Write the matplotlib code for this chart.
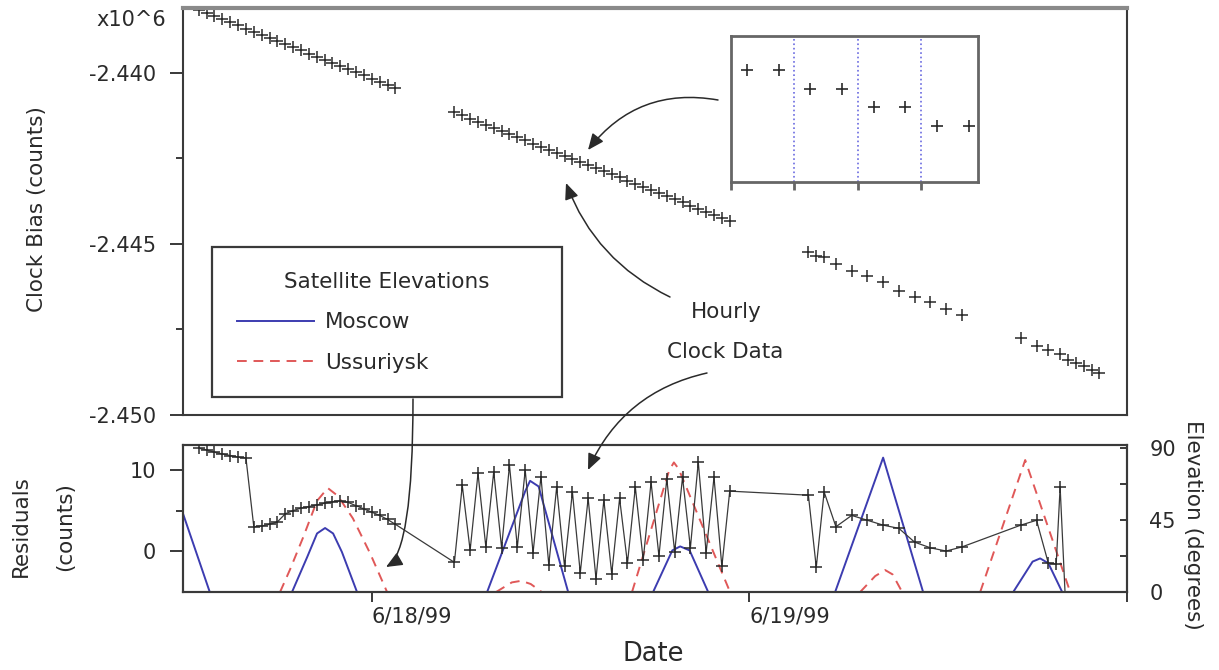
import numpy as np
import pandas as pd
import matplotlib
matplotlib.use("Agg")
import matplotlib.pyplot as plt
import matplotlib.dates as mdates
from matplotlib.patches import FancyArrowPatch
from matplotlib.ticker import FixedLocator, FormatStrFormatter, NullFormatter
from matplotlib.lines import Line2D

plt.rcParams["font.family"] = ["DejaVu Sans"]

# ---------------------------------------------------------------- data
START = pd.Timestamp("1999-06-17 12:00")
END = pd.Timestamp("1999-06-20 00:00")
day_ticks = ["1999-06-18", "1999-06-19", "1999-06-20"]
day_labels = ["6/18/99", "6/19/99", ""]

# clock bias samples: hours after START, bias in units of 10^6 counts
bias_hours = [
    1.0, 1.5, 2.0, 2.5, 3.0, 3.5, 4.0, 4.5, 5.0, 5.5, 6.0, 6.5, 7.0,
    7.5, 8.0, 8.5, 9.0, 9.5, 10.0, 10.5, 11.0, 11.5, 12.0, 12.5, 13.0, 13.5,
    17.25, 17.75, 18.25, 18.75, 19.25, 19.75, 20.25, 20.75, 21.25, 21.75,
    22.25, 22.75, 23.25, 23.75, 24.25, 24.75, 25.25, 25.75, 26.25, 26.75,
    27.25, 27.75, 28.25, 28.75, 29.25, 29.75, 30.25, 30.75, 31.25, 31.75,
    32.25, 32.75, 33.25, 33.75, 34.25, 34.75,
    39.75, 40.25, 40.75, 41.5, 42.5, 43.5, 44.5, 45.5, 46.5, 47.5, 48.5, 49.5,
    53.25, 54.25, 55.0, 55.75, 56.25, 56.75, 57.25, 57.75, 58.25,
]
bias_1e6 = [
    -2.43817, -2.43826, -2.43835, -2.43844, -2.43853, -2.43862, -2.43871,
    -2.43880, -2.43890, -2.43899, -2.43908, -2.43917, -2.43926, -2.43935,
    -2.43944, -2.43953, -2.43962, -2.43971, -2.43980, -2.43989, -2.43998,
    -2.44007, -2.44017, -2.44026, -2.44035, -2.44044,
    -2.44116, -2.44125, -2.44134, -2.44143, -2.44152, -2.44161, -2.44170,
    -2.44179, -2.44188, -2.44198, -2.44207, -2.44216, -2.44225, -2.44234,
    -2.44243, -2.44252, -2.44261, -2.44270, -2.44279, -2.44288, -2.44297,
    -2.44306, -2.44315, -2.44324, -2.44333, -2.44343, -2.44352, -2.44361,
    -2.44370, -2.44379, -2.44388, -2.44397, -2.44406, -2.44415, -2.44424,
    -2.44433,
    -2.44523, -2.44535, -2.44538, -2.44558, -2.44579, -2.44593, -2.44610,
    -2.44637, -2.44654, -2.44669, -2.44689, -2.44709,
    -2.44776, -2.44797, -2.44811, -2.44823, -2.44840, -2.44849, -2.44858,
    -2.44869, -2.44878,
]

# residuals from the linear clock model (counts)
resid_hours = [
    1.0, 1.5, 2.0, 2.5, 3.0, 3.5, 4.0, 4.5, 5.0, 5.5, 6.0, 6.5, 7.0,
    7.5, 8.0, 8.5, 9.0, 9.5, 10.0, 10.5, 11.0, 11.5, 12.0, 12.5, 13.0, 13.5,
    17.25, 17.75, 18.25, 18.75, 19.25, 19.75, 20.25, 20.75, 21.25, 21.75,
    22.25, 22.75, 23.25, 23.75, 24.25, 24.75, 25.25, 25.75, 26.25, 26.75,
    27.25, 27.75, 28.25, 28.75, 29.25, 29.75, 30.25, 30.75, 31.25, 31.75,
    32.25, 32.75, 33.25, 33.75, 34.25, 34.75,
    39.75, 40.25, 40.75, 41.5, 42.5, 43.5, 44.5, 45.5, 46.5, 47.5, 48.5, 49.5,
    53.25, 54.25, 55.0, 55.5, 55.75, 56.25,
]
resid_counts = [
    12.7, 12.5, 12.2, 12.0, 11.8, 11.6, 11.5, 3.0, 3.1, 3.3, 3.6, 4.6, 5.0,
    5.3, 5.5, 5.7, 5.9, 6.1, 6.2, 6.0, 5.6, 5.2, 4.8, 4.4, 3.9, 3.3,
    -1.4, 8.1, 0.1, 9.6, 0.5, 9.8, 0.4, 10.6, 0.5, 10.0,
    -0.2, 9.2, -1.7, 7.9, -1.9, 7.3, -2.7, 6.5, -3.4, 6.3,
    -2.8, 6.5, -1.5, 7.9, -1.1, 8.5, -0.6, 8.9, -0.1, 9.1,
    0.4, 11.0, -0.2, 9.1, -1.9, 7.4,
    6.9, -2.0, 7.3, 3.0, 4.4, 3.8, 3.2, 2.8, 1.1, 0.4, 0.0, 0.5,
    3.2, 3.8, -1.5, -1.6, 7.9, -13.0,
]

# satellite elevation passes (degrees); NaN separates passes
nan = np.nan
moscow_hours = [0.0, 1.7, nan,
                6.93, 7.9, 8.52, 9.03, 9.54, 10.1, 11.06, nan,
                19.33, 21.75, 22.06, 22.6, 24.48, nan,
                29.88, 31.1, 31.6, 32.2, 33.38, nan,
                41.45, 44.5, 47.04, nan,
                52.77, 54.0, 54.48, 55.0, 55.88]
moscow_deg = [49, 0, nan,
              0, 22, 36.6, 40, 36.6, 25, 0, nan,
              0, 63, 69.5, 66, 0, nan,
              0, 26, 28.5, 26, 0, nan,
              0, 84, 0, nan,
              0, 19, 21, 18, 0]
ussuriysk_hours = [6.17, 6.8, 7.63, 8.52, 9.2, 9.85, 10.8, 11.9, 12.97, nan,
                   19.9, 20.9, 21.5, 22.1, 22.8, nan,
                   28.54, 30.9, 31.2, 31.5, 34.77, nan,
                   43.04, 44.0, 44.63, 45.1, 45.71, nan,
                   50.67, 53.53, 56.39]
ussuriysk_deg = [0, 14, 34, 57, 65, 60, 46, 24, 0, nan,
                 0, 6, 7, 5, 0, nan,
                 0, 76, 81, 77, 0, nan,
                 0, 10, 13.7, 11, 0, nan,
                 0, 82.5, 0]

# detail of the hourly clock updates (hours, counts relative to first sample)
detail_hours = [0.25, 0.75, 1.25, 1.75, 2.25, 2.75, 3.25, 3.75]
detail_counts = [0, 0, -90, -90, -180, -180, -270, -270]
detail_bounds = [1, 2, 3]

# ---------------------------------------------------------------- helpers
BASE = mdates.date2num(START.to_pydatetime())


def to_date(hours):
    return BASE + np.asarray(hours, dtype=float) / 24.0


W, H = 1219, 670


def fbox(left, top, right, bottom):
    return [left / W, 1 - bottom / H, (right - left) / W, (bottom - top) / H]


def fpix(x, y):
    return (x, H - y)


INK = "#2a2a2a"
BLUE = "#3c3cb0"
RED = "#e05858"
FS = 15

fig = plt.figure(figsize=(W / 100, H / 100), dpi=100)

ax1 = fig.add_axes(fbox(183, 8, 1127, 415))
ax2 = fig.add_axes(fbox(183, 445, 1127, 592))
ax2r = ax2.twinx()

xlim = (mdates.date2num(START.to_pydatetime()), mdates.date2num(END.to_pydatetime()))

# ---------------------------------------------------------------- clock bias
ax1.plot(to_date(bias_hours), bias_1e6, linestyle="none", marker="+",
         ms=8, mew=1.1, color=INK)
ax1.set_xlim(*xlim)
ax1.set_ylim(-2.450, -2.43811)
ax1.yaxis.set_major_locator(FixedLocator([-2.450, -2.445, -2.440]))
ax1.yaxis.set_minor_locator(FixedLocator([-2.4475, -2.4425]))
ax1.yaxis.set_major_formatter(FormatStrFormatter("%.3f"))
ax1.tick_params(axis="y", which="major", direction="out", length=9.5, width=1.3,
                pad=10, labelsize=FS, colors=INK)
ax1.tick_params(axis="y", which="minor", direction="out", length=5, width=1.3,
                colors=INK)
ax1.tick_params(axis="x", which="both", bottom=False, labelbottom=False)
for side in ("left", "bottom", "right"):
    ax1.spines[side].set_color("#3a3a3a")
    ax1.spines[side].set_linewidth(1.5)
ax1.spines["top"].set_color("#8a8a8a")
ax1.spines["top"].set_linewidth(3)

fig.text(166 / W, 1 - 20 / H, "x10^6", ha="right", va="center",
         fontsize=FS, color=INK)
fig.text(37 / W, 1 - 209 / H, "Clock Bias (counts)", rotation=90, ha="center",
         va="center", fontsize=15.5, color=INK)

# ---------------------------------------------------------------- residuals
ax2.plot(to_date(resid_hours), resid_counts, color="#3a3a3a", lw=0.9,
         marker="+", ms=8, mew=1.1, mec=INK, zorder=3)
ax2.set_xlim(*xlim)
ax2.set_ylim(-5.06, 13.1)
ax2.yaxis.set_major_locator(FixedLocator([0, 10]))
ax2.yaxis.set_minor_locator(FixedLocator([5]))
ax2.tick_params(axis="y", which="major", direction="out", length=9.5, width=1.3,
                pad=10, labelsize=FS, colors=INK)
ax2.tick_params(axis="y", which="minor", direction="out", length=5, width=1.3,
                colors=INK)
tick_pos = [mdates.date2num(pd.Timestamp(d).to_pydatetime()) for d in day_ticks]
ax2.set_xticks(tick_pos, labels=day_labels, ha="left")
ax2.tick_params(axis="x", direction="out", length=7.5, width=1.3, pad=3,
                labelsize=FS, colors=INK)
for sp in ax2.spines.values():
    sp.set_color("#3a3a3a")
    sp.set_linewidth(1.5)

ax2r.plot(to_date(moscow_hours), moscow_deg, color=BLUE, lw=1.4, zorder=2)
ax2r.plot(to_date(ussuriysk_hours), ussuriysk_deg, color=RED, lw=1.4,
          dashes=(5, 3.5), zorder=2)
ax2r.set_xlim(*xlim)
ax2r.set_ylim(0, 91.9)
ax2r.yaxis.set_major_locator(FixedLocator([0, 45, 90]))
ax2r.yaxis.set_minor_locator(FixedLocator([22.5, 67.5]))
ax2r.tick_params(axis="y", which="major", direction="in", length=5, width=1.3,
                 pad=16, labelsize=FS, colors=INK)
ax2r.tick_params(axis="y", which="minor", direction="in", length=5, width=1.3,
                 colors=INK)
for sp in ax2r.spines.values():
    sp.set_color("#3a3a3a")
    sp.set_linewidth(1.5)
ax2.set_zorder(ax2r.get_zorder() + 1)
ax2.patch.set_visible(False)

fig.text(21 / W, 1 - 526 / H, "Residuals", rotation=90, ha="center",
         va="center", fontsize=15.5, color=INK)
fig.text(65 / W, 1 - 527 / H, "(counts)", rotation=90, ha="center",
         va="center", fontsize=15.5, color=INK)
fig.text(1193 / W, 1 - 525 / H, "Elevation (degrees)", rotation=270,
         ha="center", va="center", fontsize=15.5, color=INK)
fig.text(653 / W, 1 - 654 / H, "Date", ha="center", va="center",
         fontsize=18.5, color=INK)

# ---------------------------------------------------------------- legend
handles = [Line2D([], [], color=BLUE, lw=1.4),
           Line2D([], [], color=RED, lw=1.4, dashes=(5, 3.5))]
leg = ax1.legend(handles, ["Moscow", "Ussuriysk"], title="Satellite Elevations",
                 loc="upper left", mode="expand",
                 bbox_to_anchor=(212 / W, 1 - 398 / H, 350 / W, 151 / H),
                 bbox_transform=fig.transFigure, borderaxespad=0,
                 frameon=True, fancybox=False, framealpha=1, edgecolor="#3a3a3a",
                 fontsize=15.5, title_fontsize=15.5, borderpad=1.15,
                 handlelength=3.6, handletextpad=0.5, labelspacing=0.95)
leg.get_frame().set_linewidth(1.6)
for t in leg.get_texts():
    t.set_color(INK)
leg.get_title().set_color(INK)

# ---------------------------------------------------------------- detail inset
axin = fig.add_axes(fbox(731, 36, 978, 182))
axin.set_facecolor("white")
for b in detail_bounds:
    axin.axvline(b, color="#6a6ae0", lw=1.2, ls=":")
axin.plot(detail_hours, detail_counts, linestyle="none", marker="+", ms=9,
          mew=1.2, color=INK)
axin.set_xlim(0, 3.9)
axin.set_ylim(-539, 164)
axin.xaxis.set_major_locator(FixedLocator([0] + detail_bounds))
axin.xaxis.set_major_formatter(NullFormatter())
axin.tick_params(axis="x", direction="out", length=6, width=2, colors="#666666")
axin.tick_params(axis="y", left=False, labelleft=False)
for sp in axin.spines.values():
    sp.set_color("#666666")
    sp.set_linewidth(2)

# ---------------------------------------------------------------- callouts
fig.text(726 / W, 1 - 312 / H, "Hourly", ha="center", va="center",
         fontsize=15.5, color=INK)
fig.text(725 / W, 1 - 352 / H, "Clock Data", ha="center", va="center",
         fontsize=15.5, color=INK)

arrow_kw = dict(arrowstyle="-|>,head_length=0.7,head_width=0.3",
                mutation_scale=14, lw=1.1, color=INK, shrinkA=0, shrinkB=0)


def callout(start, end, style):
    fig.add_artist(FancyArrowPatch(
        fpix(*start), fpix(*end), transform=None, connectionstyle=style,
        zorder=10, **arrow_kw))


callout((718, 100), (588, 150), "arc3,rad=0.3")
callout((670, 297), (566, 183), "arc3,rad=-0.2")
callout((707, 373), (588, 470), "arc3,rad=0.25")
callout((413, 399), (386, 567), "angle3,angleA=-90,angleB=30")

fig.savefig("out.png", dpi=100, facecolor="white")
